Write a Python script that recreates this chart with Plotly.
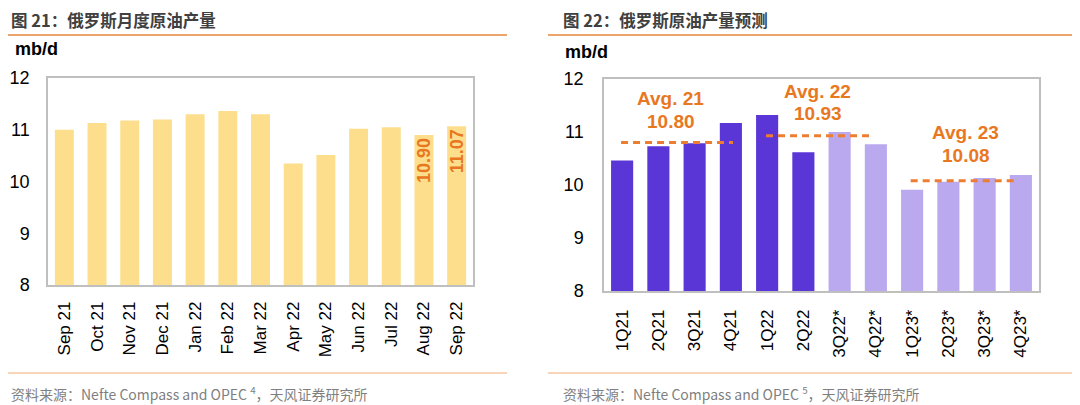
import plotly.graph_objects as go

# ---------------- data ----------------
months = ["Sep 21", "Oct 21", "Nov 21", "Dec 21", "Jan 22", "Feb 22", "Mar 22",
          "Apr 22", "May 22", "Jun 22", "Jul 22", "Aug 22", "Sep 22"]
monthly_output = [11.00, 11.13, 11.18, 11.20, 11.30, 11.36, 11.30,
                  10.35, 10.51, 11.02, 11.05, 10.90, 11.07]
monthly_labels = [None, None, None, None, None, None, None, None, None, None, None,
                  "10.90", "11.07"]

quarters = ["1Q21", "2Q21", "3Q21", "4Q21", "1Q22", "2Q22",
            "3Q22*", "4Q22*", "1Q23*", "2Q23*", "3Q23*", "4Q23*"]
quarterly_output = [10.46, 10.73, 10.79, 11.17, 11.32, 10.62,
                    11.00, 10.77, 9.91, 10.06, 10.13, 10.19]
is_forecast = [False, False, False, False, False, False,
               True, True, True, True, True, True]

avg_names = ["Avg. 21", "Avg. 22", "Avg. 23"]
avg_values = [10.80, 10.93, 10.08]

y_ticks = [8, 9, 10, 11, 12]

# ---------------- style ----------------
OFF = 8                      # page body margin offset
W, H = 1080 - OFF, 405 - OFF
LAT = "Liberation Sans, Arial, Noto Sans CJK SC, sans-serif"
CJK = "Noto Sans CJK SC, Liberation Sans, sans-serif"
YELLOW = "#FDDE8D"
DARK = "#5A36D7"
LIGHT = "#BAA9EE"
ORANGE = "#E8781F"
FRAME = "#BFBFBF"


def px_x(v):
    return (v - OFF) / W


def px_y(v):
    return 1 - (v - OFF) / H


fig = go.Figure()

fig.add_trace(go.Bar(
    x=months, y=monthly_output, width=0.58,
    marker=dict(color=YELLOW, line=dict(width=0)),
    text=monthly_labels, textposition="inside", insidetextanchor="end",
    textangle=-90, constraintext="none",
    textfont=dict(family=LAT, size=18, color=ORANGE, weight="bold"),
    xaxis="x", yaxis="y", showlegend=False, hoverinfo="x+y",
))

fig.add_trace(go.Bar(
    x=quarters, y=quarterly_output, width=0.61,
    marker=dict(color=[LIGHT if f else DARK for f in is_forecast], line=dict(width=0)),
    xaxis="x2", yaxis="y2", showlegend=False, hoverinfo="x+y",
))

axis_common = dict(
    showline=True, linecolor=FRAME, linewidth=1.5, mirror=True,
    showgrid=False, zeroline=False, fixedrange=True, automargin=False,
)

fig.update_layout(
    width=W, height=H,
    margin=dict(l=0, r=0, t=0, b=0, pad=0, autoexpand=False),
    paper_bgcolor="white", plot_bgcolor="white",
    font=dict(family=LAT, color="#000000"),
    xaxis=dict(domain=[px_x(48), px_x(473)], anchor="y", type="category",
               tickangle=-90, ticks="outside", ticklen=8, tickcolor="rgba(0,0,0,0)",
               tickfont=dict(size=17, family=LAT, color="#000"), **axis_common),
    yaxis=dict(domain=[px_y(285), px_y(78)], anchor="x", range=[8, 12],
               tickvals=y_ticks, ticks="outside", ticklen=13, tickcolor="rgba(0,0,0,0)",
               tickfont=dict(size=18, family=LAT, color="#000"), **axis_common),
    xaxis2=dict(domain=[px_x(604), px_x(1039)], anchor="y2", type="category",
                tickangle=-90, ticks="outside", ticklen=10, tickcolor="rgba(0,0,0,0)",
                tickfont=dict(size=17, family=LAT, color="#000"), **axis_common),
    yaxis2=dict(domain=[px_y(291), px_y(79)], anchor="x2", range=[8, 12],
                tickvals=y_ticks, ticks="outside", ticklen=15, tickcolor="rgba(0,0,0,0)",
                tickfont=dict(size=18, family=LAT, color="#000"), **axis_common),
)

# average dashed lines (category-index positions)
avg_spans = [(-0.03, 3.06), (3.97, 6.84), (7.96, 10.84)]
avg_text_x = [1.34, 5.39, 9.48]
avg_text_y_px = [(99, 121), (91, 113), (132, 155)]
shapes = []
annotations = []
for name, val, (x0, x1), tx, (ya, yb) in zip(avg_names, avg_values, avg_spans,
                                             avg_text_x, avg_text_y_px):
    shapes.append(dict(type="line", xref="x2", yref="y2", x0=x0, x1=x1, y0=val, y1=val,
                       line=dict(color="#ED7D31", width=3, dash="7px,5px")))
    annotations.append(dict(xref="x2", yref="paper", x=tx, y=px_y(ya), text=name,
                            showarrow=False, xanchor="center", yanchor="middle",
                            font=dict(family=LAT, size=19, color=ORANGE, weight="bold")))
    annotations.append(dict(xref="x2", yref="paper", x=tx, y=px_y(yb), text=f"{val:.2f}",
                            showarrow=False, xanchor="center", yanchor="middle",
                            font=dict(family=LAT, size=19, color=ORANGE, weight="bold")))

# header / footer rules
shapes += [
    dict(type="line", xref="paper", yref="paper", x0=px_x(0), x1=px_x(507), y0=px_y(35), y1=px_y(35),
         line=dict(color="#E8873A", width=1.5)),
    dict(type="line", xref="paper", yref="paper", x0=px_x(548), x1=1, y0=px_y(35), y1=px_y(35),
         line=dict(color="#E8873A", width=1.5)),
    dict(type="line", xref="paper", yref="paper", x0=px_x(0), x1=px_x(507), y0=px_y(373), y1=px_y(373),
         line=dict(color="#F6C6A0", width=1.5)),
    dict(type="line", xref="paper", yref="paper", x0=px_x(548), x1=1, y0=px_y(373), y1=px_y(373),
         line=dict(color="#F6C6A0", width=1.5)),
]

texts = [
    (9, 20, "图 21：俄罗斯月度原油产量", CJK, 16.5, "#404040", "bold"),
    (561, 20, "图 22：俄罗斯原油产量预测", CJK, 16.5, "#404040", "bold"),
    (13, 49, "mb/d", LAT, 18, "#000000", "bold"),
    (563, 52, "mb/d", LAT, 18, "#000000", "bold"),
    (9, 393, "资料来源：Nefte Compass and OPEC <sup>4</sup>，天风证券研究所", CJK, 14, "#7F7F7F", "normal"),
    (561, 393, "资料来源：Nefte Compass and OPEC <sup>5</sup>，天风证券研究所", CJK, 14, "#7F7F7F", "normal"),
]
for x, y, t, fam, size, col, wt in texts:
    annotations.append(dict(xref="paper", yref="paper", x=px_x(x), y=px_y(y), text=t,
                            showarrow=False, xanchor="left", yanchor="middle",
                            font=dict(family=fam, size=size, color=col, weight=wt)))

fig.update_layout(shapes=shapes, annotations=annotations)

fig.write_html("out.html")
